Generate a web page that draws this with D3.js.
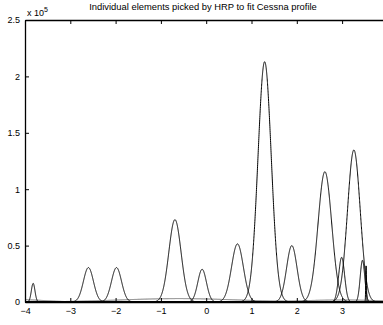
<!DOCTYPE html>
<html><head><meta charset="utf-8">
<script src="https://cdn.jsdelivr.net/npm/d3@7"></script>
<style>body{margin:0;background:#fff}svg{display:block}text{font-family:"Liberation Sans",Arial,sans-serif;}</style>
</head><body>
<svg id="c" width="383" height="325"></svg>
<script>
const title = "Individual elements picked by HRP to fit Cessna profile";
const xTicks = [-4, -3, -2, -1, 0, 1, 2, 3];
const yTicks = [0, 0.5e5, 1e5, 1.5e5, 2e5, 2.5e5];
const yTickLabels = ["0", "0.5", "1", "1.5", "2", "2.5"];
// Gaussian elements: centre, amplitude, width (sigma)
const centers = [-3.82, -2.60, -1.98, -0.69, -0.09, 0.69, 1.29, 1.89, 2.62, 2.99, 3.26, 3.45, 3.53];
const amps    = [16500, 30500, 30500, 73000, 29000, 51500, 213000, 50000, 115500, 39600, 134800, 37000, 32000];
const widths  = [0.04, 0.11, 0.11, 0.135, 0.095, 0.13, 0.146, 0.115, 0.15, 0.065, 0.14, 0.05, 0.008];
// broad low elements (drawn grey)
const broadCenters = [-4.2, -0.6, 3.0];
const broadAmps = [2200, 3000, 1800];
const broadWidths = [0.6, 1.3, 0.9];

const svg = d3.select("#c");
const x = d3.scaleLinear().domain([-4, 4]).range([25, 387.4]);
const y = d3.scaleLinear().domain([0, 2.5e5]).range([302, 20]);

svg.append("clipPath").attr("id","cp").append("rect")
  .attr("x",25).attr("y",20).attr("width",370).attr("height",282);

const grid = d3.range(-4, 4.0001, 0.002);
function curve(c, a, w) {
  return grid.map(t => [t, a * Math.exp(-0.5 * Math.pow((t - c) / w, 2))]);
}
const line = d3.line().x(d => x(d[0])).y(d => y(d[1]));
const g = svg.append("g").attr("clip-path","url(#cp)");
broadCenters.forEach((c,i) => {
  g.append("path").attr("d", line(curve(c, broadAmps[i], broadWidths[i])))
    .attr("fill","none").attr("stroke","#666").attr("stroke-width",1);
});
centers.forEach((c,i) => {
  g.append("path").attr("d", line(curve(c, amps[i], widths[i])))
    .attr("fill","none").attr("stroke","#000").attr("stroke-width",1);
});

// axes
const ax = svg.append("g");
const xa = ax.append("g").attr("transform","translate(0,302)")
  .call(d3.axisBottom(x).tickValues(xTicks).tickSizeInner(-4).tickSizeOuter(0).tickPadding(6)
    .tickFormat(d => d < 0 ? "\u2212" + Math.abs(d) : String(d)));
ax.append("g").attr("transform","translate(0,20)")
  .call(d3.axisTop(x).tickValues(xTicks).tickSizeInner(-4).tickSizeOuter(0).tickFormat(""));
ax.append("g").attr("transform","translate(25,0)")
  .call(d3.axisLeft(y).tickValues(yTicks).tickSizeInner(-4).tickSizeOuter(0).tickPadding(5)
    .tickFormat((d,i) => yTickLabels[i]));
ax.selectAll(".domain").attr("stroke","#000").attr("stroke-width",1.3);
ax.selectAll(".tick line").attr("stroke","#000");
ax.selectAll(".tick text").attr("font-size", 9).attr("fill","#000")
  .attr("font-family","Liberation Sans, Arial, sans-serif");
xa.selectAll(".tick text").attr("dy","0.71em");

// exponent label
const ex = svg.append("text").attr("x", 27).attr("y", 16).attr("font-size", 9).attr("fill","#000");
ex.append("tspan").text("x 10");
ex.append("tspan").attr("dy", -4).attr("font-size", 7).text("5");

svg.append("text").attr("x", 203).attr("y", 10).attr("text-anchor","middle")
  .attr("font-size", 9.4).attr("fill","#000").text(title);
</script>
</body></html>
